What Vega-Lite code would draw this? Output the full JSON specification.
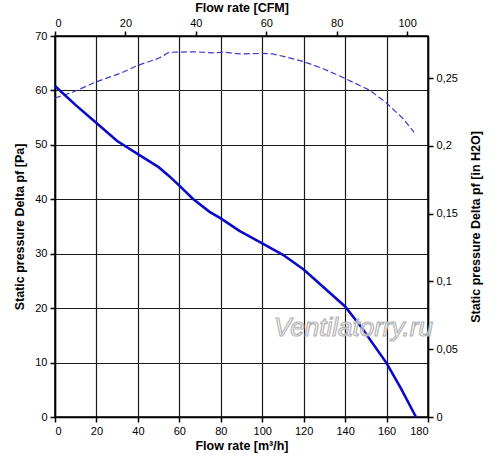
{
  "$schema": "https://vega.github.io/schema/vega-lite/v6.json",
  "autosize": {"type": "none"},
  "width": 373,
  "height": 381,
  "padding": {"left": 55, "top": 36, "right": 72, "bottom": 42},
  "background": "white",
  "config": {
    "font": "Liberation Sans",
    "view": {"stroke": "#000", "strokeWidth": 1.5},
    "axis": {
      "domainColor": "#000",
      "domainWidth": 1.5,
      "tickColor": "#000",
      "tickWidth": 1.5,
      "tickSize": 5,
      "labelColor": "#000",
      "labelFontSize": 11,
      "labelPadding": 3,
      "titleColor": "#000",
      "titleFontSize": 12.5,
      "titleFontWeight": "bold",
      "gridColor": "#1a1a1a",
      "gridOpacity": 1,
      "gridWidth": 1.2
    }
  },
  "datasets": {
    "curves": [
      {"flow": 0, "pressure": 60.8, "curve": "static"},
      {"flow": 10, "pressure": 57.3, "curve": "static"},
      {"flow": 20, "pressure": 54.0, "curve": "static"},
      {"flow": 30, "pressure": 50.7, "curve": "static"},
      {"flow": 40, "pressure": 48.3, "curve": "static"},
      {"flow": 50, "pressure": 45.9, "curve": "static"},
      {"flow": 55, "pressure": 44.3, "curve": "static"},
      {"flow": 60, "pressure": 42.5, "curve": "static"},
      {"flow": 66.5, "pressure": 40.1, "curve": "static"},
      {"flow": 74.6, "pressure": 37.7, "curve": "static"},
      {"flow": 80, "pressure": 36.5, "curve": "static"},
      {"flow": 89, "pressure": 34.2, "curve": "static"},
      {"flow": 100, "pressure": 31.9, "curve": "static"},
      {"flow": 110, "pressure": 29.8, "curve": "static"},
      {"flow": 120, "pressure": 27.1, "curve": "static"},
      {"flow": 130, "pressure": 23.7, "curve": "static"},
      {"flow": 140, "pressure": 20.3, "curve": "static"},
      {"flow": 148, "pressure": 16.4, "curve": "static"},
      {"flow": 160, "pressure": 9.9, "curve": "static"},
      {"flow": 167, "pressure": 5.2, "curve": "static"},
      {"flow": 174.2, "pressure": 0, "curve": "static"},
      {"flow": 0, "pressure": 58.6, "curve": "dashed"},
      {"flow": 8.7, "pressure": 59.7, "curve": "dashed"},
      {"flow": 20, "pressure": 61.6, "curve": "dashed"},
      {"flow": 32, "pressure": 63.2, "curve": "dashed"},
      {"flow": 40, "pressure": 64.6, "curve": "dashed"},
      {"flow": 50, "pressure": 65.9, "curve": "dashed"},
      {"flow": 55, "pressure": 67.0, "curve": "dashed"},
      {"flow": 68, "pressure": 67.1, "curve": "dashed"},
      {"flow": 76, "pressure": 66.9, "curve": "dashed"},
      {"flow": 82, "pressure": 67.0, "curve": "dashed"},
      {"flow": 89, "pressure": 66.7, "curve": "dashed"},
      {"flow": 100, "pressure": 66.8, "curve": "dashed"},
      {"flow": 105, "pressure": 66.7, "curve": "dashed"},
      {"flow": 112, "pressure": 66.1, "curve": "dashed"},
      {"flow": 120, "pressure": 65.3, "curve": "dashed"},
      {"flow": 130, "pressure": 63.9, "curve": "dashed"},
      {"flow": 140, "pressure": 62.2, "curve": "dashed"},
      {"flow": 152, "pressure": 60.0, "curve": "dashed"},
      {"flow": 160, "pressure": 57.7, "curve": "dashed"},
      {"flow": 168, "pressure": 54.8, "curve": "dashed"},
      {"flow": 173.3, "pressure": 52.3, "curve": "dashed"}
    ],
    "imperial": [
      {"cfm": 0, "inh2o": 0},
      {"cfm": 100, "inh2o": 0.25}
    ],
    "watermark": [
      {"flow": 144, "pressure": 16.4, "note": "Ventilatorry.ru"}
    ]
  },
  "layer": [
    {
      "data": {"name": "curves"},
      "encoding": {
        "x": {
          "field": "flow",
          "type": "quantitative",
          "scale": {"domain": [0, 180], "nice": false},
          "axis": {
            "orient": "bottom",
            "title": "Flow rate [m³/h]",
            "values": [0, 20, 40, 60, 80, 100, 120, 140, 160, 180],
            "grid": true,
            "titlePadding": 3
          }
        },
        "y": {
          "field": "pressure",
          "type": "quantitative",
          "scale": {"domain": [0, 70], "nice": false},
          "axis": {
            "orient": "left",
            "title": "Static pressure Delta pf [Pa]",
            "values": [0, 10, 20, 30, 40, 50, 60, 70],
            "grid": true,
            "titlePadding": 8
          }
        }
      },
      "layer": [
        {
          "transform": [{"filter": "datum.curve == 'dashed'"}],
          "mark": {"type": "line", "color": "#3a3ad0", "strokeWidth": 1.2, "strokeDash": [6, 3]}
        },
        {
          "transform": [{"filter": "datum.curve == 'static'"}],
          "mark": {"type": "line", "color": "#0a0ac8", "strokeWidth": 2.6}
        },
        {
          "data": {"name": "watermark"},
          "mark": {
            "type": "text",
            "fontSize": 26,
            "fontStyle": "italic",
            "fill": "#ffffff",
            "fillOpacity": 0.6,
            "stroke": "#b5b5b5",
            "strokeWidth": 1.2,
            "align": "center",
            "baseline": "middle"
          },
          "encoding": {
            "text": {"field": "note"}
          }
        }
      ]
    },
    {
      "data": {"name": "imperial"},
      "mark": {"type": "point", "opacity": 0},
      "encoding": {
        "x": {
          "field": "cfm",
          "type": "quantitative",
          "scale": {"domain": [0, 105.94], "nice": false},
          "axis": {
            "orient": "top",
            "title": "Flow rate [CFM]",
            "values": [0, 20, 40, 60, 80, 100],
            "grid": false,
            "titlePadding": 3
          }
        },
        "y": {
          "field": "inh2o",
          "type": "quantitative",
          "scale": {"domain": [0, 0.281], "nice": false},
          "axis": {
            "orient": "right",
            "title": "Static pressure Delta pf [in H2O]",
            "titleAngle": 270,
            "titleBaseline": "top",
            "values": [0, 0.05, 0.1, 0.15, 0.2, 0.25],
            "labelExpr": "replace(format(datum.value, '~g'), '.', ',')",
            "grid": false,
            "titlePadding": 12
          }
        }
      }
    }
  ],
  "resolve": {"scale": {"x": "independent", "y": "independent"}}
}
